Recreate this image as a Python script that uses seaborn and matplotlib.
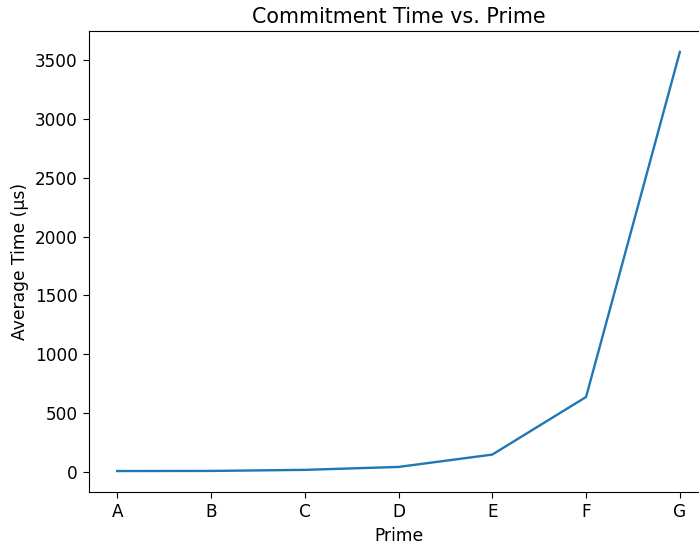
import matplotlib
matplotlib.use("Agg")
import matplotlib.pyplot as plt
import seaborn as sns
import pandas as pd

primes = ["A", "B", "C", "D", "E", "F", "G"]
avg_time = [5, 6, 15, 40, 145, 635, 3570]

df = pd.DataFrame({"Prime": primes, "Average Time (µs)": avg_time})

plt.rcParams["font.family"] = ["DejaVu Sans"]

fig, ax = plt.subplots(figsize=(6.99, 5.48), dpi=100)
fig.subplots_adjust(left=89/699, right=708/699, top=1-31/548, bottom=1-492/548)
sns.lineplot(data=df, x="Prime", y="Average Time (µs)", ax=ax, color="#1f77b4", linewidth=1.7)
ax.set_title("Commitment Time vs. Prime", fontsize=14.9)
ax.set_xlabel("Prime", fontsize=12.3)
ax.set_ylabel("Average Time (µs)", fontsize=12.3)
ax.tick_params(labelsize=12.2, length=4.5)
fig.savefig("out.png", dpi=100)
